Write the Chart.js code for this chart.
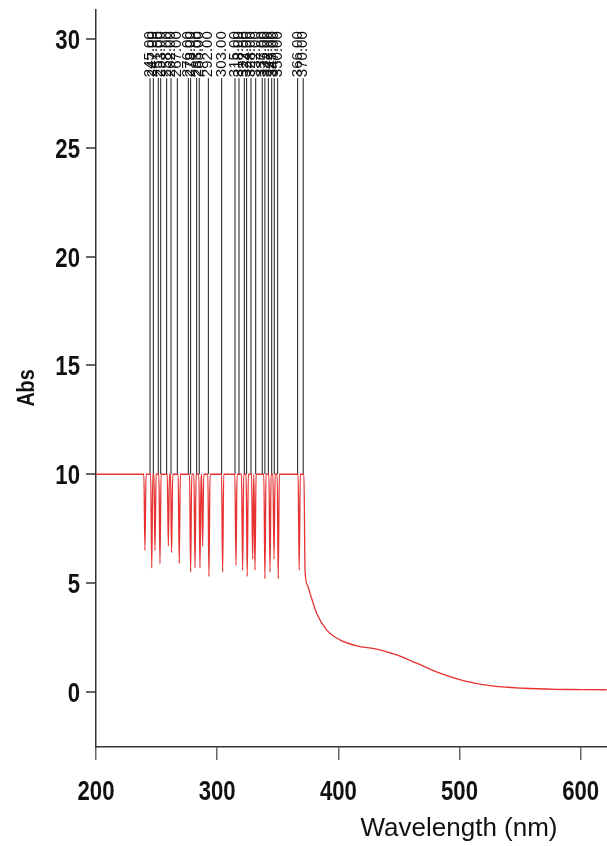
<!DOCTYPE html>
<html lang="en">
<head>
<meta charset="UTF-8">
<title>Abs spectrum</title>
<style>
  html, body { margin: 0; padding: 0; background: #fff; }
  #wrap { width: 607px; height: 846px; }
</style>
</head>
<body>
<div id="wrap"><canvas id="spec"></canvas></div>
<script src="https://cdn.jsdelivr.net/npm/chart.js@4.4.1/dist/chart.umd.min.js"></script>
<script>
// detector plateau and the dips under it (nm / Abs)
var plateauAbs = 10;
var dipNm  = [240.4, 246.0, 248.7, 252.8, 259.7, 262.4, 268.7, 278.1, 281.7, 285.8, 288.0, 293.2,
              304.5, 315.5, 321.0, 324.8, 329.3, 331.2, 339.4, 343.6, 346.9, 350.4, 367.7];
var dipAbs = [6.5, 5.7, 6.5, 5.9, 6.7, 6.4, 5.9, 5.5, 5.7, 5.7, 6.7, 5.3,
              5.5, 5.8, 5.6, 5.3, 6.1, 5.6, 5.2, 5.5, 6.1, 5.2, 5.6];
// decay after the plateau
var tailNm  = [371.6, 372.5, 374.5, 376.6, 382.1, 390.3, 401.3, 415.1, 431.6, 448.1, 464.6,
               483.8, 503.0, 525.1, 552.6, 580.1, 600.0, 621.5];
var tailAbs = [10, 5.6, 4.9, 4.54, 3.62, 2.85, 2.39, 2.12, 1.97, 1.70, 1.32,
               0.86, 0.52, 0.29, 0.17, 0.12, 0.11, 0.10];

// peak markers
var peakNm = [244.6, 247.3, 251.4, 253.4, 258.3, 261.9, 267.1, 276.2, 278.1, 283.1, 285.2, 292.7,
              303.7, 314.7, 318.0, 322.4, 324.3, 327.9, 331.8, 337.2, 339.4, 342.2, 345.0, 347.1,
              349.9, 366.4, 371.0];
var peakLabels = ['245.00', '247.00', '251.00', '253.00', '258.00', '262.00', '267.00', '276.00',
                  '278.00', '283.00', '285.00', '292.00', '303.00', '315.00', '318.00', '322.00',
                  '324.00', '328.00', '332.00', '337.00', '339.00', '342.00', '345.00', '347.00',
                  '350.00', '366.00', '370.00'];
var peakTop = 28.2;

var xTicks = [200, 300, 400, 500, 600];
var yTicks = [0, 5, 10, 15, 20, 25, 30];

// build the red trace
var trace = [{x: 200, y: plateauAbs}];
for (var i = 0; i < dipNm.length; i++) {
  trace.push({x: dipNm[i] - 0.9, y: plateauAbs});
  trace.push({x: dipNm[i], y: dipAbs[i]});
  trace.push({x: dipNm[i] + 0.9, y: plateauAbs});
}
for (var j = 0; j < tailNm.length; j++) {
  trace.push({x: tailNm[j], y: tailAbs[j]});
}

var datasets = [{
  type: 'line',
  data: trace,
  borderColor: 'rgb(232,50,50)',
  borderWidth: 1.3,
  pointRadius: 0,
  cubicInterpolationMode: 'monotone'
}];
peakNm.forEach(function (nm) {
  datasets.push({
    type: 'line',
    data: [{x: nm, y: plateauAbs}, {x: nm, y: peakTop}],
    borderColor: '#1a1a1a',
    borderWidth: 1,
    pointRadius: 0
  });
});

// condensed bold text (no narrow font installed, so squeeze it)
function narrowText(ctx, text, x, y, align, rot) {
  ctx.save();
  ctx.translate(x, y);
  if (rot) ctx.rotate(rot);
  ctx.scale(0.82, 1);
  ctx.textAlign = align;
  ctx.fillText(text, 0, 0);
  ctx.restore();
}

var axisText = {
  id: 'axisText',
  afterDraw: function (chart) {
    var ctx = chart.ctx, xs = chart.scales.x, ys = chart.scales.y;
    ctx.save();
    ctx.fillStyle = '#111';
    ctx.textBaseline = 'alphabetic';
    ctx.font = 'bold 27px "Liberation Sans", Arial, sans-serif';
    yTicks.forEach(function (v) {
      narrowText(ctx, String(v), 80, ys.getPixelForValue(v) + 10, 'right');
    });
    xTicks.forEach(function (v) {
      narrowText(ctx, String(v), xs.getPixelForValue(v), 800, 'center');
    });
    ctx.font = 'bold 24px "Liberation Sans", Arial, sans-serif';
    narrowText(ctx, 'Abs', 34, 388, 'center', -Math.PI / 2);
    ctx.font = '26px "Liberation Sans", Arial, sans-serif';
    ctx.textAlign = 'center';
    ctx.fillText('Wavelength (nm)', 459, 836);
    ctx.restore();
  }
};

var peakText = {
  id: 'peakText',
  afterDatasetsDraw: function (chart) {
    var ctx = chart.ctx, xs = chart.scales.x, ys = chart.scales.y;
    ctx.save();
    ctx.font = '15px "Liberation Sans", Arial, sans-serif';
    ctx.fillStyle = '#111';
    ctx.textAlign = 'left';
    ctx.textBaseline = 'middle';
    peakNm.forEach(function (nm, k) {
      ctx.save();
      ctx.translate(xs.getPixelForValue(nm), ys.getPixelForValue(peakTop) - 1);
      ctx.rotate(-Math.PI / 2);
      ctx.fillText(peakLabels[k], 0, 0);
      ctx.restore();
    });
    ctx.restore();
  }
};

new Chart(document.getElementById('spec'), {
  type: 'line',
  data: {datasets: datasets},
  options: {
    responsive: true,
    maintainAspectRatio: false,
    animation: false,
    layout: {padding: {top: 10, right: 0, bottom: 0, left: 0}},
    plugins: {legend: {display: false}, tooltip: {enabled: false}},
    scales: {
      x: {
        type: 'linear',
        min: 200,
        max: 621.7,
        afterBuildTicks: function (s) { s.ticks = xTicks.map(function (v) { return {value: v}; }); },
        afterFit: function (s) { s.height = 99; s.paddingLeft = 0; s.paddingRight = 0; },
        grid: {drawOnChartArea: false, tickLength: 13, color: '#666', lineWidth: 1.5},
        border: {color: '#333', width: 1.5},
        ticks: {display: false}
      },
      y: {
        type: 'linear',
        min: -2.53,
        max: 31.33,
        afterBuildTicks: function (s) { s.ticks = yTicks.map(function (v) { return {value: v}; }); },
        afterFit: function (s) { s.width = 96; s.paddingTop = 0; s.paddingBottom = 0; },
        grid: {drawOnChartArea: false, tickLength: 10, color: '#666', lineWidth: 2},
        border: {color: '#333', width: 1.5},
        ticks: {display: false}
      }
    }
  },
  plugins: [peakText, axisText]
});
</script>
</body>
</html>
